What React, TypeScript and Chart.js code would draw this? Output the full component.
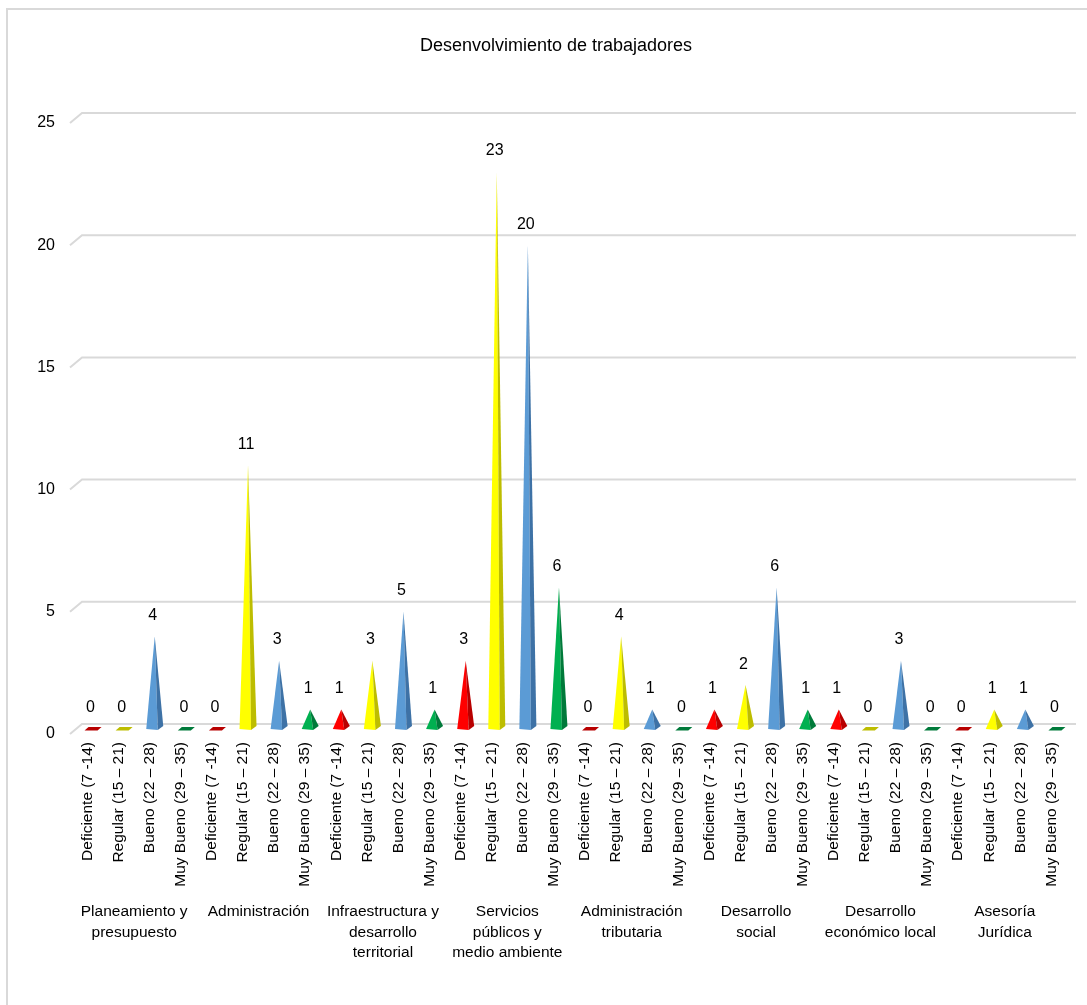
import React, { useEffect, useRef } from "react";
import { Chart, registerables } from "chart.js";

Chart.register(...registerables);

const TITLE = "Desenvolvimiento de trabajadores";

// Performance levels shown under every area
const levels = [
  "Deficiente (7 -14)",
  "Regular (15 – 21)",
  "Bueno (22 – 28)",
  "Muy Bueno (29 – 35)",
];

// Areas of the municipality (multi-line group captions)
const areas: string[][] = [
  ["Planeamiento y", "presupuesto"],
  ["Administración"],
  ["Infraestructura y", "desarrollo", "territorial"],
  ["Servicios", "públicos y", "medio ambiente"],
  ["Administración", "tributaria"],
  ["Desarrollo", "social"],
  ["Desarrollo", "económico local"],
  ["Asesoría", "Jurídica"],
];

// Number of workers per level, one entry per area
const deficiente = [0, 0, 1, 3, 0, 1, 1, 0];
const regular = [0, 11, 3, 23, 4, 2, 0, 1];
const bueno = [4, 3, 5, 20, 1, 6, 3, 1];
const muyBueno = [0, 1, 1, 6, 0, 1, 0, 0];

const yTicks = [0, 5, 10, 15, 20, 25];

const levelColors = ["#FF0000", "#FFFF00", "#5B9BD5", "#00B050"];
const levelShades = ["#B80000", "#BDBD00", "#3E72A6", "#007A3A"];

const FONT = "'Liberation Sans', Arial, sans-serif";

const series = [deficiente, regular, bueno, muyBueno];
const labels: string[] = [];
const values: number[] = [];
areas.forEach((_, a) => {
  levels.forEach((lvl, l) => {
    labels.push(lvl);
    values.push(series[l][a]);
  });
});

// The value scale is the front plane; walls sit DEPTH behind it.
const DEPTH_X = 12;
const DEPTH_Y = 10;

const pyramidPlugin = {
  id: "pyramids",
  beforeDatasetsDraw(chart: any) {
    const { ctx, chartArea, scales } = chart;
    const ys = scales.y;
    ctx.save();
    ctx.strokeStyle = "#d9d9d9";
    ctx.lineWidth = 2;
    yTicks.forEach((v) => {
      const yf = ys.getPixelForValue(v);
      ctx.beginPath();
      ctx.moveTo(chartArea.left - 2, yf);
      ctx.lineTo(chartArea.left - 2 + DEPTH_X, yf - DEPTH_Y);
      ctx.lineTo(chartArea.right + 9, yf - DEPTH_Y);
      ctx.stroke();
    });
    ctx.restore();
  },
  afterDatasetsDraw(chart: any) {
    const { ctx } = chart;
    const meta = chart.getDatasetMeta(0);
    const w = 17;
    ctx.save();
    meta.data.forEach((el: any, i: number) => {
      const v = values[i];
      const lvl = i % 4;
      const cx = el.x + 5;
      const base = el.base - DEPTH_Y / 2; // floor at mid depth
      const tip = el.y;
      if (v > 0) {
        // front face
        ctx.fillStyle = levelColors[lvl];
        ctx.beginPath();
        ctx.moveTo(cx, tip);
        ctx.lineTo(cx - w / 2, base);
        ctx.lineTo(cx + 3, base + 1);
        ctx.closePath();
        ctx.fill();
        // side face
        ctx.fillStyle = levelShades[lvl];
        ctx.beginPath();
        ctx.moveTo(cx, tip);
        ctx.lineTo(cx + 3, base + 1);
        ctx.lineTo(cx + w / 2, base - 3);
        ctx.closePath();
        ctx.fill();
      } else {
        // flat base for empty levels
        ctx.fillStyle = levelShades[lvl];
        ctx.beginPath();
        ctx.moveTo(cx - 8, base + 1.5);
        ctx.lineTo(cx + 5, base + 1.5);
        ctx.lineTo(cx + 9, base - 2);
        ctx.lineTo(cx - 4, base - 2);
        ctx.closePath();
        ctx.fill();
      }
      // value label
      ctx.fillStyle = "#000";
      ctx.font = `16px ${FONT}`;
      ctx.textAlign = "center";
      ctx.textBaseline = "middle";
      ctx.fillText(String(v), el.x + 3, Math.min(tip, base) - 21);
    });
    ctx.restore();
  },
  afterDraw(chart: any) {
    const { ctx, scales } = chart;
    const xs = scales.x;
    ctx.save();
    ctx.fillStyle = "#000";
    // title, centred on the outer frame
    ctx.font = `18px ${FONT}`;
    ctx.textAlign = "center";
    ctx.textBaseline = "middle";
    ctx.fillText(TITLE, 556, 46);
    // area captions under the level labels
    ctx.font = `15.5px ${FONT}`;
    areas.forEach((lines, a) => {
      const x0 = xs.getPixelForValue(a * 4);
      const x3 = xs.getPixelForValue(a * 4 + 3);
      const cx = (x0 + x3) / 2;
      lines.forEach((t, k) => {
        ctx.fillText(t, cx, 912 + k * 20.5);
      });
    });
    // outer frame
    ctx.strokeStyle = "#d9d9d9";
    ctx.lineWidth = 2;
    ctx.beginPath();
    ctx.moveTo(7, 1010);
    ctx.lineTo(7, 9);
    ctx.lineTo(1095, 9);
    ctx.stroke();
    ctx.restore();
  },
};

export default function App() {
  const ref = useRef<HTMLCanvasElement | null>(null);

  useEffect(() => {
    if (!ref.current) return;
    const chart = new Chart(ref.current, {
      type: "bar",
      data: {
        labels,
        datasets: [
          {
            label: "Trabajadores",
            data: values,
            backgroundColor: "rgba(0,0,0,0)",
            borderWidth: 0,
          },
        ],
      },
      options: {
        animation: false,
        responsive: false,
        layout: { padding: { left: 0, right: 20, top: 123, bottom: 0 } },
        plugins: {
          legend: { display: false },
          tooltip: { enabled: false },
          title: { display: false },
        },
        scales: {
          x: {
            grid: { display: false, drawTicks: false },
            border: { display: false },
            ticks: {
              autoSkip: false,
              minRotation: 90,
              maxRotation: 90,
              padding: 8,
              color: "#000",
              font: { family: FONT, size: 15.5 },
            },
            afterFit: (s: any) => {
              s.height = 271;
              s.paddingLeft = 0;
              s.paddingRight = 0;
            },
          },
          y: {
            min: 0,
            max: 25,
            grid: { display: false, drawTicks: false },
            border: { display: false },
            ticks: {
              stepSize: 5,
              padding: 17,
              color: "#000",
              font: { family: FONT, size: 16 },
            },
            afterFit: (s: any) => {
              s.width = 72;
              s.paddingTop = 0;
              s.paddingBottom = 0;
            },
          },
        },
      },
      plugins: [pyramidPlugin],
    });
    return () => chart.destroy();
  }, []);

  return (
    <div style={{ position: "absolute", left: 0, top: 0, width: 1087, height: 1005 }}>
      <canvas ref={ref} width={1087} height={1005} style={{ display: "block" }} />
    </div>
  );
}
